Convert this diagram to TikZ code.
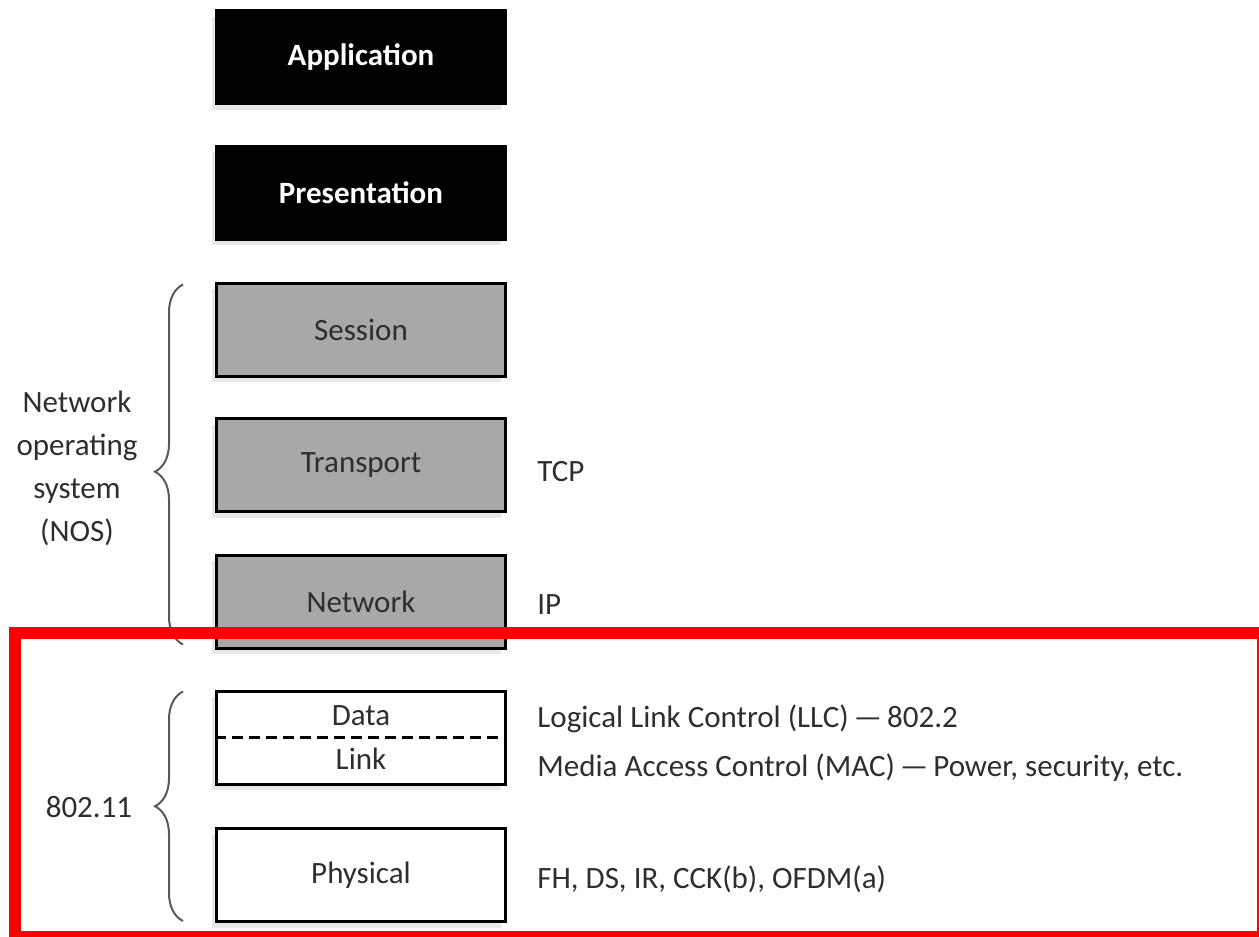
\documentclass[tikz,border=0pt]{standalone}
\usepackage{fontspec}
\setmainfont{Carlito}
\usepackage{tikz}
\usetikzlibrary{shadows}
\usetikzlibrary{decorations.pathreplacing}
\colorlet{boxgray}{black!34}
\colorlet{txtgray}{black!82}
\newcommand\lblfont{\fontsize{15.5}{18}\selectfont}
\tikzstyle{layer}=[draw=black,line width=1.5pt,minimum width=144.5pt,minimum height=46.5pt,inner sep=0pt,font=\lblfont,text=txtgray,drop shadow={shadow xshift=-2.5pt,shadow yshift=-3pt,fill=black!18}]
\tikzstyle{applayer}=[layer,fill=black,text=white,font=\lblfont\bfseries]
\tikzstyle{noslayer}=[layer,fill=boxgray]
\tikzstyle{wlanlayer}=[layer,fill=white]
\tikzstyle{lbl}=[font=\lblfont,text=txtgray,inner sep=0pt]
\tikzstyle{note}=[lbl,anchor=base west]
\tikzstyle{brc}=[line width=1pt,draw=black!65,decorate,decoration={brace,amplitude=14pt}]
\tikzstyle{divider}=[line width=1.5pt,dash pattern=on 5.5pt off 3pt]
\tikzstyle{hilite}=[draw=red,line width=6pt]
\begin{document}
\begin{tikzpicture}[x=0.5pt,y=-0.5pt]
	\useasboundingbox (0,0) rectangle (1259,937);
	% the seven layers
	\node[applayer]  (app)  at (361,57)    {Application};
	\node[applayer]  (pres) at (361,192.5) {Presentation};
	\node[noslayer]  (sess) at (361,329.5) {Session};
	\node[noslayer]  (tran) at (361,465)   {Transport};
	\node[noslayer]  (net)  at (361,601.5) {Network};
	\node[wlanlayer] (dl)   at (361,737.5) {};
	\node[wlanlayer] (phy)  at (361,875)   {Physical};
	\draw[divider] (dl.west) -- (dl.east);
	\node[lbl] (data) at (361,716) {Data};
	\node[lbl] (link) at (361,759) {Link};
	% protocols on the right
	\node[note] (tcp) at (537,481) {TCP};
	\node[note] (ip)  at (537,614) {IP};
	\node[note] (llc) at (537,727) {Logical Link Control (LLC)\,—\,802.2};
	\node[note] (mac) at (537,776) {Media Access Control (MAC)\,—\,Power, security, etc.};
	\node[note] (fh)  at (537,888) {FH, DS, IR, CCK(b), OFDM(a)};
	% braces and their labels
	\draw[brc,decoration={aspect=.48}] ([xshift=-16pt,yshift=2.5pt]net.south west) -- ([xshift=-16pt,yshift=-1.5pt]sess.north west);
	\draw[brc] ([xshift=-16pt,yshift=1pt]phy.south west) -- ([xshift=-16pt,yshift=-1pt]dl.north west);
	\node[lbl,align=center,font=\fontsize{15.5}{21.5}\selectfont] (nos) at (77,468) {Network\\operating\\system\\(NOS)};
	\node[lbl] (wlan) at (89,807) {802.11};
	% highlight
	\draw[hilite] (15,633) rectangle (1263,937);
\end{tikzpicture}
\end{document}
